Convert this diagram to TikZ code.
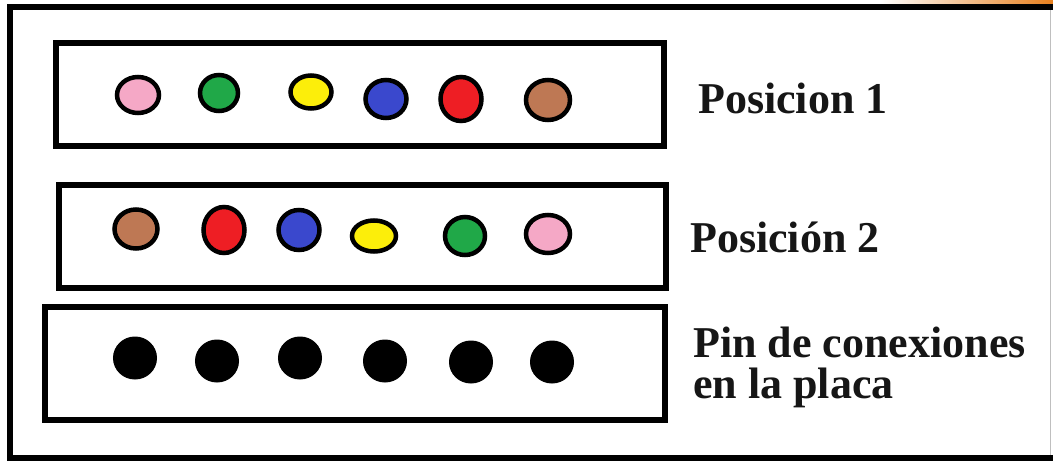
\documentclass[tikz,border=0pt]{standalone}
\usepackage{fontspec}
\setmainfont{Liberation Serif}
\usetikzlibrary{shapes.geometric}
\definecolor{cpink}{RGB}{245,168,198}
\definecolor{cgreen}{RGB}{32,168,72}
\definecolor{cyellow}{RGB}{252,238,10}
\definecolor{cblue}{RGB}{58,72,205}
\definecolor{cred}{RGB}{238,30,36}
\definecolor{cbrown}{RGB}{190,120,84}
\definecolor{corange}{RGB}{232,128,30}
\definecolor{ctext}{RGB}{22,22,22}
\tikzset{
  boxline/.style={line width=6pt, line join=miter},
  dot/.style={ellipse, draw=black, line width=4.5pt, inner sep=0pt},
  pin/.style={ellipse, fill=black, draw=black, line width=1pt, inner sep=0pt, minimum width=43pt, minimum height=42pt},
  lbl/.style={anchor=base west, inner sep=0pt, text=ctext, align=left, font=\fontsize{44}{41}\selectfont\bfseries}
}
\begin{document}
\begin{tikzpicture}[x=1pt,y=-1pt]
\useasboundingbox (0,0) rectangle (1053,461);
\fill[white] (0,0) rectangle (1053,461);
% orange corner strip
\shade[left color=white, right color=corange] (880,0) rectangle (1053,3.5);
% outer frame
\draw[line width=6pt] (1053,7) -- (10,7) -- (10,458) -- (1053,458);
\draw[line width=1pt, black!25] (1050,10) -- (1050,455);
% boxes
\draw[boxline] (56,43) rectangle (664,146);
\draw[boxline] (58.5,184.5) rectangle (666,288);
\draw[boxline] (45,307) rectangle (665,420);
% row 1
\node[dot, fill=cpink,   minimum width=42pt, minimum height=36pt] (a1) at (138,95) {};
\node[dot, fill=cgreen,  minimum width=38pt, minimum height=36pt] (a2) at (219,93) {};
\node[dot, fill=cyellow, minimum width=41pt, minimum height=33pt] (a3) at (311,92) {};
\node[dot, fill=cblue,   minimum width=41pt, minimum height=38pt] (a4) at (386,99) {};
\node[dot, fill=cred,    minimum width=41pt, minimum height=44pt] (a5) at (461,99) {};
\node[dot, fill=cbrown,  minimum width=44pt, minimum height=40pt] (a6) at (548,100) {};
% row 2
\node[dot, fill=cbrown,  minimum width=43pt, minimum height=39pt] (b1) at (136,229) {};
\node[dot, fill=cred,    minimum width=41pt, minimum height=46pt] (b2) at (224,230) {};
\node[dot, fill=cblue,   minimum width=41pt, minimum height=40pt] (b3) at (299,230) {};
\node[dot, fill=cyellow, minimum width=44pt, minimum height=31pt] (b4) at (374,236) {};
\node[dot, fill=cgreen,  minimum width=40pt, minimum height=38pt] (b5) at (465,236) {};
\node[dot, fill=cpink,   minimum width=44pt, minimum height=38pt] (b6) at (548,234) {};
% row 3
\node[pin] (c1) at (135,358) {};
\node[pin] (c2) at (217,361) {};
\node[pin] (c3) at (300,358) {};
\node[pin] (c4) at (385,361) {};
\node[pin] (c5) at (471,362) {};
\node[pin] (c6) at (552,362) {};
% labels
\node[lbl] (l1) at (698,113) {Posicion 1};
\node[lbl] (l2) at (690,252) {Posición 2};
\node[lbl, anchor=north west] (l3) at (693,327) {Pin de conexiones\\en la placa};
\end{tikzpicture}
\end{document}
